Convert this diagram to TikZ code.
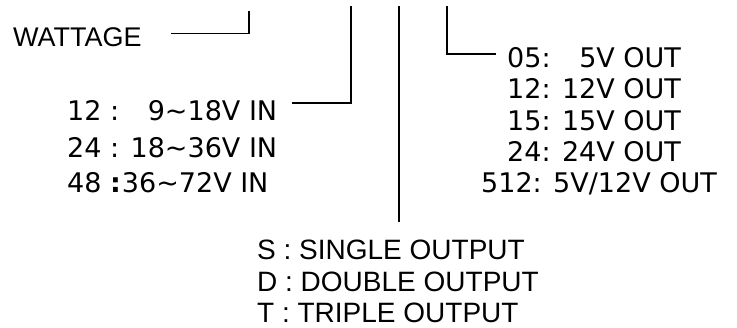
\documentclass[tikz,border=0pt]{standalone}
\usepackage{fontspec}
\setmainfont{Liberation Sans}
\newfontfamily\verd{DejaVu Sans}
\usetikzlibrary{calc}
\begin{document}
\begin{tikzpicture}[x=1pt,y=-1pt,
    wire/.style = {line width=1.5pt},
    codeA/.style = {anchor=base west,inner sep=0pt,font=\fontsize{28}{28}\selectfont},
    codeV/.style = {anchor=base west,inner sep=0pt,font=\verd\fontsize{27}{27}\selectfont}]
    \useasboundingbox (0,0) rectangle (737,327);

    \node[codeA,font=\fontsize{27}{27}\selectfont] (watt) at (13,46) {WATTAGE};

    \node[codeV] (in12) at (67,120) {12 : \phantom{1}9\textasciitilde 18V IN};
    \node[codeV] (in24) at (67,157) {24 : 18\textasciitilde 36V IN};
    \node[codeV] (in48) at (67,192) {48 {\bfseries:}\kern1pt 36\textasciitilde 72V IN};

    \node[codeV] (o05) at (507,67)  {05: \phantom{1}5V OUT};
    \node[codeV] (o12) at (507,98)  {12: 12V OUT};
    \node[codeV] (o15) at (507,130) {15: 15V OUT};
    \node[codeV] (o24) at (507,161) {24: 24V OUT};
    \node[codeV] (o512) at (481,192) {512: 5V/12V OUT};

    \node[codeA] (sgl) at (257,259) {S : SINGLE OUTPUT};
    \node[codeA] (dbl) at (257,291) {D : DOUBLE OUTPUT};
    \node[codeA] (tpl) at (257,322) {T : TRIPLE OUTPUT};

    \coordinate (wtop)  at (249,11);
    \coordinate (intop) at (351,6);
    \coordinate (otop)  at (399,6);
    \coordinate (vtop)  at (447,6);
    \draw[wire] ($(watt.east)+(29,-3)$) -| (wtop);
    \draw[wire] ($(in12.east)+(15,-7)$) -| (intop);
    \draw[wire] (otop) -- ($(otop |- sgl.north)+(0,-17)$);
    \draw[wire] ($(o05.west)+(-11,-3)$) -| (vtop);
\end{tikzpicture}
\end{document}
